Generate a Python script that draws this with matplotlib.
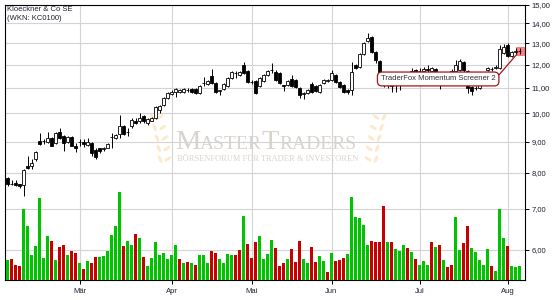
import matplotlib
matplotlib.use('Agg')
import numpy as np
import matplotlib.pyplot as plt
from matplotlib.patches import Ellipse

plt.rcParams['font.family'] = ['Liberation Sans', 'DejaVu Sans']

# Kloeckner & Co SE, daily candles (Feb - Aug)
opens = [7.86, 7.68, 7.72, 7.67, 7.64, 8.22, 8.22, 8.42, 9.02, 9.01,
         8.99, 9.13, 8.96, 9.34, 9.20, 8.99, 9.16, 8.86, 8.99, 8.99,
         8.89, 8.96, 8.73, 8.77, 8.74, 8.80, 9.15, 9.13, 9.27, 9.55,
         9.33, 9.52, 9.73, 9.70, 9.91, 9.66, 9.73, 9.84, 10.13, 10.33,
         10.61, 10.76, 10.84, 10.84, 10.84, 10.92, 10.96, 10.96, 10.80, 11.20,
         11.17, 11.51, 11.21, 10.88, 10.96, 11.08, 11.43, 11.62, 11.56, 11.99,
         11.73, 11.25, 11.30, 11.08, 11.30, 11.56, 11.76, 11.68, 11.64, 11.10,
         11.12, 11.38, 11.34, 11.00, 10.76, 10.80, 11.17, 11.08, 10.84, 11.21,
         11.30, 11.34, 11.56, 11.25, 11.12, 10.92, 10.92, 11.99, 11.90, 12.50,
         13.10, 13.29, 12.59, 12.17, 11.56, 11.30, 11.25, 11.10, 11.25, 11.20,
         11.35, 11.50, 11.75, 11.70, 11.70, 11.80, 11.70, 11.80, 11.50, 11.20,
         11.30, 11.45, 11.70, 11.77, 12.12, 11.70, 11.04, 10.98, 11.00, 11.25,
         11.77, 11.80, 11.86, 11.86, 12.55, 12.92, 12.41, 12.60, 12.63]
highs = [7.89, 7.78, 7.78, 7.69, 8.13, 8.54, 8.42, 8.67, 9.30, 9.07,
         9.34, 9.16, 9.34, 9.48, 9.23, 9.20, 9.20, 8.96, 9.07, 9.07,
         9.13, 8.99, 8.80, 8.80, 8.83, 8.96, 9.30, 9.27, 9.94, 9.58,
         9.48, 9.84, 9.84, 10.02, 9.95, 9.84, 9.88, 10.29, 10.33, 10.65,
         10.84, 10.92, 11.00, 10.96, 11.00, 11.00, 11.00, 11.00, 11.12, 11.47,
         11.34, 11.81, 11.25, 10.92, 11.21, 11.47, 11.73, 11.73, 11.73, 12.12,
         11.77, 11.34, 11.34, 11.47, 11.60, 11.77, 12.07, 11.77, 11.68, 11.14,
         11.34, 11.56, 11.38, 11.04, 10.84, 10.96, 11.25, 11.12, 11.17, 11.38,
         11.38, 11.77, 11.60, 11.30, 11.17, 10.96, 12.12, 12.03, 12.55, 13.06,
         13.52, 13.38, 12.64, 12.22, 11.60, 11.40, 11.34, 11.30, 11.40, 11.50,
         11.60, 11.86, 11.80, 11.86, 11.90, 11.99, 11.90, 11.85, 11.55, 11.40,
         11.55, 11.80, 12.20, 12.24, 12.17, 11.77, 11.08, 11.08, 11.30, 11.60,
         11.90, 11.90, 12.00, 12.90, 12.97, 13.00, 12.64, 12.78, 12.78]
lows = [7.61, 7.64, 7.61, 7.55, 7.33, 8.13, 8.13, 8.38, 8.89, 8.93,
        8.96, 8.84, 8.92, 9.10, 8.67, 8.96, 8.84, 8.64, 8.86, 8.83,
        8.86, 8.51, 8.42, 8.61, 8.70, 8.77, 8.80, 9.10, 9.13, 9.23,
        9.20, 9.48, 9.62, 9.66, 9.66, 9.59, 9.70, 9.80, 10.02, 10.29,
        10.57, 10.72, 10.64, 10.80, 10.80, 10.84, 10.80, 10.76, 10.76, 11.08,
        11.12, 11.17, 10.80, 10.72, 10.92, 11.04, 11.38, 11.43, 11.51, 11.60,
        11.21, 11.17, 10.76, 11.04, 11.25, 11.51, 11.64, 11.30, 11.17, 10.88,
        11.08, 11.04, 11.00, 10.61, 10.57, 10.76, 10.80, 10.84, 10.80, 11.17,
        11.25, 11.30, 11.21, 11.00, 10.80, 10.76, 10.72, 11.81, 11.86, 12.45,
        13.06, 12.55, 12.07, 11.51, 11.04, 11.00, 10.84, 10.84, 10.92, 11.15,
        11.30, 11.45, 11.60, 11.60, 11.60, 11.60, 11.60, 11.40, 10.96, 11.10,
        11.20, 11.40, 11.60, 11.73, 11.60, 10.80, 10.72, 10.92, 10.96, 11.20,
        11.70, 11.70, 11.80, 11.81, 12.50, 12.36, 12.36, 12.50, 12.50]
closes = [7.67, 7.67, 7.64, 7.61, 8.10, 8.16, 8.32, 8.64, 8.92, 9.02,
          9.13, 8.86, 9.30, 9.13, 8.96, 9.16, 8.86, 8.80, 9.00, 8.92,
          8.99, 8.61, 8.48, 8.70, 8.77, 8.92, 9.17, 9.23, 9.52, 9.27,
          9.34, 9.77, 9.66, 9.84, 9.70, 9.80, 9.84, 10.25, 10.29, 10.61,
          10.80, 10.84, 10.96, 10.92, 10.96, 10.90, 10.84, 10.80, 11.08, 11.21,
          11.30, 11.21, 10.84, 10.90, 11.17, 11.43, 11.68, 11.64, 11.68, 11.64,
          11.25, 11.26, 10.80, 11.43, 11.56, 11.73, 11.78, 11.34, 11.21, 11.06,
          11.30, 11.08, 11.04, 10.72, 10.78, 10.92, 10.84, 10.88, 11.12, 11.34,
          11.31, 11.64, 11.25, 11.04, 10.84, 10.84, 11.68, 11.86, 12.50, 13.01,
          13.25, 12.59, 12.22, 11.56, 11.12, 11.12, 11.08, 11.25, 11.20, 11.35,
          11.50, 11.70, 11.70, 11.72, 11.82, 11.75, 11.85, 11.50, 11.20, 11.30,
          11.45, 11.70, 11.99, 12.17, 11.77, 11.00, 10.88, 11.00, 11.25, 11.50,
          11.86, 11.82, 11.88, 12.70, 12.83, 12.41, 12.59, 12.63, 12.62]

# volume (relative units), g = up day, r = down day
volumes = [20, 21, 15, 14, 71, 54, 25, 34, 82, 22,
           44, 39, 20, 33, 35, 25, 29, 27, 17, 11,
           19, 17, 23, 23, 24, 29, 45, 54, 88, 34,
           39, 35, 46, 42, 23, 14, 22, 38, 25, 27,
           21, 25, 35, 21, 17, 18, 17, 15, 25, 25,
           17, 29, 27, 21, 17, 26, 25, 25, 30, 64,
           36, 22, 38, 44, 21, 26, 40, 32, 14, 17,
           21, 31, 18, 39, 21, 17, 33, 18, 24, 19,
           8, 27, 19, 20, 22, 26, 83, 63, 62, 55,
           35, 39, 38, 38, 74, 38, 38, 31, 29, 35,
           32, 28, 21, 15, 19, 15, 38, 33, 35, 20,
           13, 15, 63, 30, 37, 54, 32, 28, 20, 15,
           31, 14, 9, 71, 42, 34, 14, 13, 14]
vol_dir = list("grrrgggggg"
               "grgrrgrrgr"
               "grrggggggr"
               "ggrgrggggg"
               "gggrgrgrgg"
               "grrggggrrg"
               "rrrggggrrr"
               "grrrggrrgg"
               "rgrrrggggg"
               "grrrrgrggg"
               "rgrgggrgrg"
               "rrggrrgggg"
               "grgggrggg")

month_pos = [18, 41, 61, 81, 103, 125]
month_labels = ['Mär', 'Apr', 'Mai', 'Jun', 'Jul', 'Aug']
price_ticks = [6, 7, 8, 9, 10, 11, 12, 13, 14, 15]
price_labels = ['%d,00' % p for p in price_ticks]

txt_col = '#202034'
grid_col = '#d4d4d4'
green = '#00c400'
red = '#c80000'

fig = plt.figure(figsize=(5.55, 3.0), dpi=100)
fig.patch.set_facecolor('white')

# watermark layer in pixel coordinates
wm = fig.add_axes([0, 0, 1, 1], zorder=0)
wm.set_xlim(0, 555)
wm.set_ylim(300, 0)
wm.axis('off')
wcol = '#d9d3cd'
serif = ['Liberation Serif', 'DejaVu Serif']
wm.text(175, 149, 'M', fontsize=20.5, family=serif, color=wcol)
wm.text(200.3, 149, 'ASTER', fontsize=14, family=serif, color=wcol)
wm.text(261.8, 149, 'T', fontsize=20.5, family=serif, color=wcol)
wm.text(279.2, 149, 'RADERS', fontsize=14, family=serif, color=wcol)
wm.text(268, 161, 'BÖRSENFORUM FÜR TRADER & INVESTOREN', fontsize=6,
        family=serif, color=wcol, ha='center')

leaf = '#fde9cc'
for base, sgn in [(164, 1), (372, -1)]:
    for k in range(5):
        t = k / 4
        sx = base - sgn * 8 * t ** 1.4
        sy = 162 - 42 * t
        for side in (-1, 1):
            wm.add_patch(Ellipse((sx + side * 4, sy - 3), 3.2, 8,
                                 angle=side * 40 + sgn * 15, color=leaf, lw=0))

ax = fig.add_axes([5 / 555, 20 / 300, 520 / 555, 275 / 300], zorder=1)
ax.set_facecolor('none')

# volume bars on hidden twin axis
vax = ax.twinx()
vax.set_ylim(0, 275)
vax.axis('off')

x = np.arange(len(closes))
o = np.array(opens)
c = np.array(closes)

vax.bar(x, volumes, width=0.75, linewidth=0,
        color=[green if d == 'g' else red for d in vol_dir])

ax.set_yscale('log')
ax.set_ylim(5.36, 15.0)
ax.set_xlim(-0.625, 129.375)
ax.minorticks_off()
ax.set_yticks(price_ticks)
ax.set_yticklabels(price_labels)
ax.yaxis.tick_right()
ax.set_xticks(month_pos)
ax.set_xticklabels(month_labels)
ax.tick_params(axis='both', direction='out', length=3, width=0.7,
               labelsize=5.5, labelcolor=txt_col)
ax.tick_params(axis='y', pad=2)
ax.tick_params(axis='x', pad=2.5)
ax.grid(True, color=grid_col, lw=0.8)
ax.set_axisbelow(True)
for s in ax.spines.values():
    s.set_color('black')
    s.set_linewidth(0.8)

# last price marker
ax.plot(x[-1], closes[-1], marker='s', ms=5.8, mfc='#ff8080', mec='#f06060',
        mew=0.5, zorder=2)

# candles
up = c >= o
ax.vlines(x, lows, highs, color='black', lw=0.7, zorder=3)
ax.bar(x, np.abs(c - o), bottom=np.minimum(o, c), width=0.7,
       color=np.where(up, 'white', 'black'), edgecolor='black',
       linewidth=0.6, zorder=4)

ax.annotate('TraderFox Momentum Screener 2', xy=(x[-1], closes[-1]),
            xytext=(0.833, 0.731), textcoords='axes fraction',
            ha='center', va='center', fontsize=5.5, color='#303030',
            bbox=dict(boxstyle='round,pad=0.45,rounding_size=0.6',
                      fc='white', ec='#a01818', lw=0.9),
            arrowprops=dict(arrowstyle='-', color='#a01818', lw=0.9,
                            relpos=(1.0, 0.5), shrinkA=0, shrinkB=3),
            zorder=5)

fig.text(7 / 555, 1 - 6 / 300, 'Kloeckner & Co SE\n(WKN: KC0100)',
         ha='left', va='top', fontsize=5.5, color=txt_col, linespacing=1.3)

fig.savefig('out.png', dpi=100)
